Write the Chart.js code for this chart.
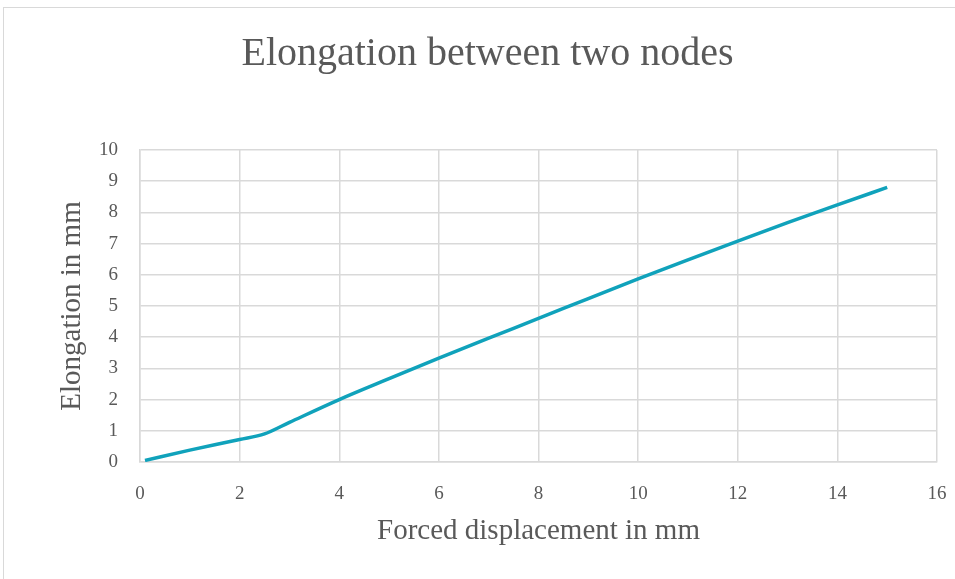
<!DOCTYPE html>
<html lang="en">
<head>
    <meta charset="UTF-8">
    <title>Elongation between two nodes</title>
    <style>
        html, body {
            margin: 0;
            padding: 0;
            background: #fff;
            overflow: hidden;
        }
        .frame {
            position: absolute;
            left: 3px;
            top: 7px;
            width: 1000px;
            height: 700px;
            border: 1px solid #d9d9d9;
            box-sizing: border-box;
        }
        .chart-box {
            position: absolute;
            left: 0;
            top: 0;
            width: 955px;
            height: 579px;
        }
    </style>
</head>
<body>
    <div class="frame"></div>
    <div class="chart-box">
        <canvas id="chart1"></canvas>
    </div>
    <script src="https://cdn.jsdelivr.net/npm/chart.js@4/dist/chart.umd.min.js"></script>
    <script>
        // 그래프 데이터
        const displacement = [0.1, 1, 2, 2.5, 3, 4, 5, 6, 7, 8, 9, 10, 11, 12, 13, 14, 15];
        const elongation = [0.05, 0.38, 0.72, 0.9, 1.27, 2.0, 2.67, 3.33, 3.97, 4.6, 5.24, 5.87, 6.48, 7.08, 7.67, 8.24, 8.8];
        const xTicks = [0, 2, 4, 6, 8, 10, 12, 14, 16];
        const yTicks = [0, 1, 2, 3, 4, 5, 6, 7, 8, 9, 10];

        const points = displacement.map((v, i) => ({x: v, y: elongation[i]}));
        const textColor = '#595959';
        const gridColor = '#d9d9d9';
        const serif = "'Liberation Serif', 'DejaVu Serif', serif";

        new Chart(chart1, {
            type: 'scatter',
            data: {
                datasets: [
                    {
                        label: 'Elongation',
                        data: points,
                        showLine: true,
                        borderColor: '#10a2bb',
                        borderWidth: 3.5,
                        pointRadius: 0,
                        pointHoverRadius: 0,
                        cubicInterpolationMode: 'monotone',
                        fill: false
                    }
                ]
            },
            options: {
                responsive: true,
                maintainAspectRatio: false,
                animation: false,
                layout: {
                    padding: {left: 38, right: 18, top: 0, bottom: 0}
                },
                plugins: {
                    legend: {display: false},
                    tooltip: {enabled: false},
                    title: {
                        display: true,
                        text: 'Elongation between two nodes',
                        color: textColor,
                        font: {family: serif, size: 40, weight: 'normal'},
                        padding: {top: 30, bottom: 72}
                    }
                },
                scales: {
                    x: {
                        type: 'linear',
                        min: 0,
                        max: 16,
                        afterBuildTicks: (scale) => {
                            scale.ticks = xTicks.map(v => ({value: v}));
                        },
                        afterFit: (scale) => {
                            scale.height = 117;
                            // 라벨 때문에 생기는 좌우 여백은 layout padding으로 대신함
                            scale.paddingLeft = 0;
                            scale.paddingRight = 0;
                        },
                        grid: {color: gridColor, lineWidth: 1.5, drawTicks: false},
                        border: {color: gridColor, width: 1.5},
                        ticks: {color: textColor, font: {family: serif, size: 19}, padding: 21},
                        title: {
                            display: true,
                            text: 'Forced displacement in mm',
                            color: textColor,
                            font: {family: serif, size: 29},
                            padding: {top: 0, bottom: 30.6}
                        }
                    },
                    y: {
                        type: 'linear',
                        min: 0,
                        max: 10,
                        afterBuildTicks: (scale) => {
                            scale.ticks = yTicks.map(v => ({value: v}));
                        },
                        afterFit: (scale) => {
                            scale.width = 102;
                        },
                        grid: {color: gridColor, lineWidth: 1.5, drawTicks: false},
                        border: {color: gridColor, width: 1.5},
                        ticks: {color: textColor, font: {family: serif, size: 19}, padding: 22},
                        title: {
                            display: true,
                            text: 'Elongation in mm',
                            color: textColor,
                            font: {family: serif, size: 29},
                            padding: {top: 16.6, bottom: 0}
                        }
                    }
                }
            }
        });
    </script>
</body>
</html>
